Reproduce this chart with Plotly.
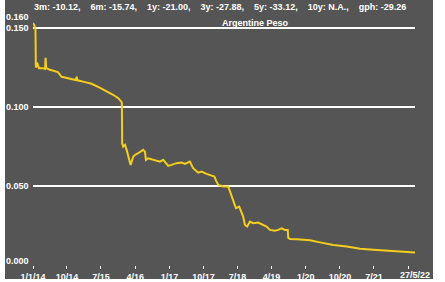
import plotly.graph_objects as go

# ---- data ----
DATES = [
    "2014-01-01", "2014-01-10", "2014-01-21", "2014-01-24", "2014-01-29", "2014-02-03",
    "2014-02-10", "2014-02-18", "2014-03-20", "2014-04-08", "2014-04-12", "2014-04-17",
    "2014-05-17", "2014-06-20", "2014-07-20", "2014-08-19", "2014-09-20", "2014-10-25",
    "2014-12-10", "2014-12-18", "2014-12-24", "2015-02-15", "2015-04-17", "2015-06-20",
    "2015-08-26", "2015-10-10", "2015-11-17", "2015-12-14", "2015-12-16", "2015-12-18",
    "2015-12-26", "2016-01-10", "2016-01-23", "2016-02-04", "2016-02-24", "2016-03-16",
    "2016-03-29", "2016-04-25", "2016-05-15", "2016-06-04", "2016-06-18", "2016-06-26",
    "2016-07-14", "2016-08-23", "2016-09-20", "2016-10-16", "2016-11-12", "2016-12-22",
    "2017-01-18", "2017-02-27", "2017-04-08", "2017-05-05", "2017-06-14", "2017-07-10",
    "2017-08-20", "2017-09-16", "2017-10-26", "2017-12-05", "2017-12-28", "2018-01-12",
    "2018-01-28", "2018-03-09", "2018-04-18", "2018-05-07", "2018-05-28", "2018-06-19",
    "2018-07-15", "2018-08-03", "2018-08-16", "2018-08-30", "2018-09-17", "2018-10-09",
    "2018-11-04", "2018-12-15", "2019-01-24", "2019-02-20", "2019-03-19", "2019-04-28",
    "2019-05-24", "2019-06-21", "2019-07-17", "2019-08-09", "2019-08-13", "2019-08-28",
    "2019-10-20", "2019-12-12", "2020-02-04", "2020-04-24", "2020-08-09", "2020-11-25",
    "2021-03-12", "2021-06-26", "2021-10-12", "2022-01-27", "2022-05-27",
]
VALUES = [
    0.1530, 0.1520, 0.1490, 0.1250, 0.1255, 0.1280,
    0.1260, 0.1245, 0.1245, 0.1240, 0.1310, 0.1245,
    0.1235, 0.1228, 0.1220, 0.1190, 0.1185, 0.1180,
    0.1170, 0.1190, 0.1168, 0.1158, 0.1146, 0.1122,
    0.1097, 0.1075, 0.1055, 0.1030, 0.1020, 0.0770,
    0.0749, 0.0760, 0.0728, 0.0696, 0.0633, 0.0685,
    0.0696, 0.0707, 0.0718, 0.0728, 0.0717, 0.0665,
    0.0675, 0.0665, 0.0660, 0.0654, 0.0665, 0.0627,
    0.0633, 0.0644, 0.0648, 0.0639, 0.0654, 0.0612,
    0.0584, 0.0591, 0.0576, 0.0563, 0.0560, 0.0530,
    0.0506, 0.0496, 0.0496, 0.0454, 0.0401, 0.0359,
    0.0369, 0.0337, 0.0306, 0.0253, 0.0243, 0.0274,
    0.0264, 0.0268, 0.0253, 0.0243, 0.0222, 0.0217,
    0.0222, 0.0232, 0.0222, 0.0222, 0.0172, 0.0165,
    0.0163, 0.0160, 0.0156, 0.0143, 0.0127, 0.0117,
    0.0103, 0.0096, 0.0091, 0.0085, 0.0079,
]

STATS = ["3m: -10.12,", "6m: -15.74,", "1y: -21.00,", "3y: -27.88,",
         "5y: -33.12,", "10y: N.A.,", "gph: -29.26"]
TITLE = "Argentine Peso"

X_TICK_DATES = ["2014-01-01", "2014-10-01", "2015-07-01", "2016-04-01", "2017-01-01",
                "2017-10-01", "2018-07-01", "2019-04-01", "2020-01-01", "2020-10-01",
                "2021-07-01", "2022-04-01"]
X_TICK_TEXT = ["1/1/14", "10/14", "7/15", "4/16", "1/17", "10/17", "7/18", "4/19",
               "1/20", "10/20", "7/21", ""]
END_LABEL = "27/5/22"

Y_LABEL_VALUES = [0.0, 0.05, 0.10, 0.15, 0.16]
Y_LABEL_TEXT = ["0.000", "0.050", "0.100", "0.150", "0.160"]
Y_GRID_VALUES = [0.05, 0.10, 0.15]

# ---- styling ----
BG = "#555555"
LINE = "#f5cd1c"
FONT = "Liberation Sans, Arial, sans-serif"
W, H = 445, 282
ML, MR, MT, MB = 33, 30, 12, 17
PW, PH = W - ML - MR, H - MT - MB

fig = go.Figure()
fig.add_trace(go.Scatter(x=DATES, y=VALUES, mode="lines",
                         line=dict(color=LINE, width=2), hoverinfo="skip"))

# dark panel behind chart (pixel box 5..433 x 0..279)
fig.add_shape(type="rect", xref="paper", yref="paper", layer="below",
              x0=(5 - ML) / PW, x1=(433 - ML) / PW,
              y0=(H - MB - 279) / PH, y1=(H - MB) / PH,
              fillcolor=BG, line=dict(width=0))

annotations = []
for v, t in zip(Y_LABEL_VALUES, Y_LABEL_TEXT):
    shift = 0
    if v == Y_LABEL_VALUES[0]:
        shift = 4
    elif v == Y_LABEL_VALUES[-1]:
        shift = -5
    annotations.append(dict(x=0, xref="paper", y=v, yref="y", text=t, showarrow=False,
                            xanchor="right", yanchor="middle", xshift=-2, yshift=shift,
                            font=dict(family=FONT, size=9, color="white", weight="bold")))
annotations.append(dict(x=DATES[-1], xref="x", y=0, yref="paper", text=END_LABEL,
                        showarrow=False, xanchor="center", yanchor="top", yshift=-3,
                        font=dict(family=FONT, size=9, color="white", weight="bold")))
annotations.append(dict(x=(220 - ML) / PW, xref="paper", y=(H - MB - 7) / PH, yref="paper",
                        text="\u00a0\u00a0\u00a0\u00a0".join(STATS), showarrow=False,
                        xanchor="center", yanchor="middle",
                        font=dict(family=FONT, size=9, color="white", weight="bold")))
annotations.append(dict(x=(255.5 - ML) / PW, xref="paper", y=(H - MB - 23.5) / PH,
                        yref="paper", text=TITLE, showarrow=False,
                        xanchor="center", yanchor="middle",
                        font=dict(family=FONT, size=9, color="white", weight="bold")))

fig.update_layout(
    width=W, height=H,
    margin=dict(l=ML, r=MR, t=MT, b=MB, pad=0, autoexpand=False),
    paper_bgcolor="white", plot_bgcolor=BG,
    showlegend=False,
    annotations=annotations,
    xaxis=dict(type="date", range=[DATES[0], DATES[-1]], automargin=False,
               tickmode="array", tickvals=X_TICK_DATES, ticktext=X_TICK_TEXT,
               ticks="outside", ticklen=3, tickcolor="white", tickwidth=1,
               showgrid=False, zeroline=False, showline=False,
               tickfont=dict(family=FONT, size=9, color="white", weight="bold")),
    yaxis=dict(range=[0, 0.16], tickmode="array", tickvals=Y_GRID_VALUES, automargin=False,
               showticklabels=False, ticks="",
               showgrid=True, gridcolor="white", gridwidth=2,
               zeroline=False, showline=False),
)

fig.write_html("out.html")
